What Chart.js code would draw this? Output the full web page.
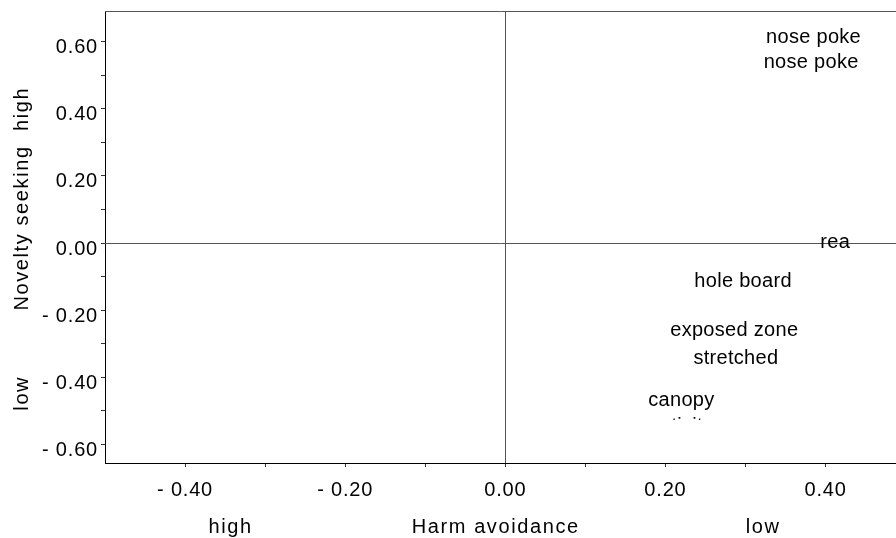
<!DOCTYPE html>
<html>
<head>
<meta charset="utf-8">
<script src="https://cdn.jsdelivr.net/npm/chart.js@4.4.1/dist/chart.umd.min.js"></script>
<style>
  body { margin: 0; background: #fff; }
</style>
</head>
<body>
<canvas id="biplot" width="896" height="538"></canvas>
<script>
// behaviour scores on the two factors
const behaviours = ['nose poke', 'nose poke', 'rea', 'hole board', 'exposed zone', 'stretched', 'canopy', 'activity'];
const harmAvoidance = [0.385, 0.382, 0.412, 0.297, 0.286, 0.288, 0.220, 0.220];
const noveltySeeking = [0.620, 0.544, 0.007, -0.110, -0.256, -0.338, -0.464, -0.540];

const xTicks = [-0.4, -0.3, -0.2, -0.1, 0, 0.1, 0.2, 0.3, 0.4];
const xTickLabels = ['- 0.40', '', '- 0.20', '', '0.00', '', '0.20', '', '0.40'];
const yTicks = [-0.6, -0.5, -0.4, -0.3, -0.2, -0.1, 0, 0.1, 0.2, 0.3, 0.4, 0.5, 0.6];
const yTickLabels = ['- 0.60', '', '- 0.40', '', '- 0.20', '', '0.00', '', '0.20', '', '0.40', '', '0.60'];

const xAxisWords = ['high', 'Harm avoidance', 'low'];
const xAxisWordAt = [-0.343, -0.012, 0.322];
const yAxisWords = ['low', 'Novelty seeking', 'high'];
const yAxisWordAt = [-0.448, 0.045, 0.40];

// the last label is cut off in the original plot
const cutOffLabel = 'activity';
const cutOffAt = -0.528;

const FONT = '"Liberation Sans", Arial, sans-serif';

const labelPlugin = {
  id: 'labelPlugin',
  beforeDraw(chart) {
    chart.ctx.letterSpacing = '0.8px';
  },
  afterDatasetsDraw(chart) {
    const { ctx, chartArea, scales } = chart;
    const x = scales.x, y = scales.y;
    ctx.save();

    // frame top + zero lines
    ctx.lineWidth = 1;
    ctx.strokeStyle = '#555';
    ctx.beginPath();
    ctx.moveTo(chartArea.left, chartArea.top + 0.5);
    ctx.lineTo(chartArea.right, chartArea.top + 0.5);
    const x0 = Math.round(x.getPixelForValue(0)) + 0.5;
    const y0 = Math.round(y.getPixelForValue(0)) + 0.5;
    ctx.moveTo(x0, chartArea.top);
    ctx.lineTo(x0, chartArea.bottom);
    ctx.moveTo(chartArea.left, y0);
    ctx.lineTo(chartArea.right, y0);
    ctx.stroke();

    // point labels
    ctx.font = '20px ' + FONT;
    ctx.letterSpacing = '0.3px';
    ctx.fillStyle = '#000';
    ctx.textAlign = 'center';
    ctx.textBaseline = 'middle';
    chart.getDatasetMeta(0).data.forEach((pt, i) => {
      ctx.save();
      if (behaviours[i] === cutOffLabel) {
        const limit = y.getPixelForValue(cutOffAt);
        ctx.beginPath();
        ctx.rect(chartArea.left, chartArea.top, chartArea.right - chartArea.left, limit - chartArea.top);
        ctx.clip();
      }
      ctx.fillText(behaviours[i], pt.x, pt.y + 2);
      ctx.restore();
    });

    // axis words
    ctx.letterSpacing = '1.6px';
    xAxisWords.forEach((w, i) => {
      ctx.fillText(w, x.getPixelForValue(xAxisWordAt[i]), 527);
    });
    yAxisWords.forEach((w, i) => {
      ctx.save();
      ctx.translate(22, y.getPixelForValue(yAxisWordAt[i]));
      ctx.rotate(-Math.PI / 2);
      ctx.fillText(w, 0, 0);
      ctx.restore();
    });
    ctx.restore();
  }
};

function axisOptions(tickValues, tickLabels, min, max) {
  return {
    type: 'linear',
    min: min,
    max: max,
    afterBuildTicks: (scale) => {
      scale.ticks = tickValues.map((v) => ({ value: v }));
    },
    ticks: {
      autoSkip: false,
      maxRotation: 0,
      color: '#000',
      font: { family: FONT, size: 20 },
      callback: (value, index) => tickLabels[index]
    },
    grid: {
      drawOnChartArea: false,
      drawTicks: true,
      tickLength: 4,
      color: '#333'
    },
    border: { color: '#000', width: 1 }
  };
}

function noEdgePadding(scale) {
  scale.paddingTop = 0;
  scale.paddingBottom = 0;
  scale.paddingLeft = 0;
  scale.paddingRight = 0;
}

const xScale = axisOptions(xTicks, xTickLabels, -0.5, 0.488);
xScale.ticks.padding = 11;
xScale.afterFit = (scale) => { scale.height = 75; noEdgePadding(scale); };

const yScale = axisOptions(yTicks, yTickLabels, -0.656, 0.692);
yScale.ticks.padding = 3;
yScale.ticks.labelOffset = 6;
yScale.afterFit = (scale) => { scale.width = 105; noEdgePadding(scale); };

new Chart(document.getElementById('biplot').getContext('2d'), {
  type: 'scatter',
  data: {
    datasets: [{
      label: 'behaviours',
      data: harmAvoidance.map((h, i) => ({ x: h, y: noveltySeeking[i] })),
      pointRadius: 0,
      pointHoverRadius: 0
    }]
  },
  options: {
    responsive: false,
    devicePixelRatio: 1,
    animation: false,
    layout: { padding: { top: 11, right: 0, left: 0, bottom: 0 } },
    scales: { x: xScale, y: yScale },
    plugins: {
      legend: { display: false },
      tooltip: { enabled: false }
    }
  },
  plugins: [labelPlugin]
});
</script>
</body>
</html>
